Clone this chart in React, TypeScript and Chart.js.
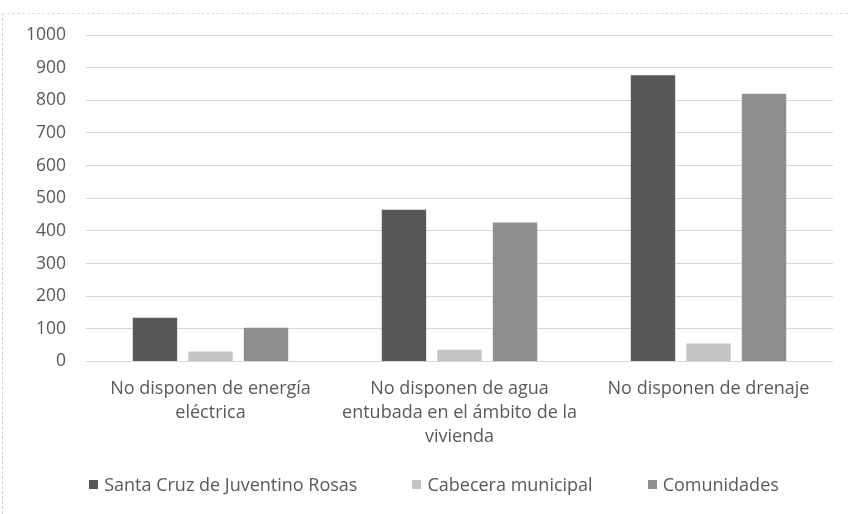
import React, { useEffect, useRef } from "react";
import { Chart, registerables } from "chart.js";

Chart.register(...registerables);

const categories: string[][] = [
  ["No disponen de energía", "eléctrica"],
  ["No disponen de agua", "entubada en el ámbito de la", "vivienda"],
  ["No disponen de drenaje"],
];
const santaCruz = [134, 465, 877];
const cabecera = [31, 36, 55];
const comunidades = [103, 426, 820];
const seriesNames = ["Santa Cruz de Juventino Rosas", "Cabecera municipal", "Comunidades"];
const seriesColors = ["#585858", "#c4c4c4", "#8e8e8e"];
const yTicks = [0, 100, 200, 300, 400, 500, 600, 700, 800, 900, 1000];

const FONT = "'Open Sans', 'DejaVu Sans', sans-serif";
const TXT = "#595959";

export default function App() {
  const ref = useRef<HTMLCanvasElement | null>(null);
  useEffect(() => {
    if (!ref.current) return;
    const series = [santaCruz, cabecera, comunidades];
    const chart = new Chart(ref.current, {
      type: "bar",
      data: {
        labels: categories,
        datasets: series.map((d, i) => ({
          label: seriesNames[i],
          data: d,
          backgroundColor: seriesColors[i],
        })),
      },
      options: {
        animation: false,
        responsive: false,
        maintainAspectRatio: false,
        layout: { padding: { top: 35, right: 15, bottom: 0, left: 0 } },
        datasets: {
          bar: { categoryPercentage: 0.669, barPercentage: 0.8 },
        },
        plugins: {
          tooltip: { enabled: false },
          legend: { display: false },
        },
        scales: {
          x: {
            grid: { display: false, drawTicks: false },
            border: { display: false },
            afterFit: (scale: any) => {
              scale.height = 152.5;
            },
            ticks: {
              color: TXT,
              font: { family: FONT, size: 18, lineHeight: 1.333 },
              padding: 15.5,
              maxRotation: 0,
              autoSkip: false,
            },
          },
          y: {
            min: 0,
            max: 1000,
            afterBuildTicks: (scale: any) => {
              scale.ticks = yTicks.map((v) => ({ value: v }));
            },
            afterFit: (scale: any) => {
              scale.width = 86;
            },
            grid: { color: "#d6d6d6", lineWidth: 1, drawTicks: false },
            border: { display: false },
            ticks: {
              color: TXT,
              font: { family: FONT, size: 17.5 },
              padding: 20,
              callback: (v: any) => String(v),
            },
          },
        },
      },
    });
    return () => chart.destroy();
  }, []);
  return (
    <div style={{ position: "fixed", left: 0, top: 0, width: 848, height: 514, background: "#fff" }}>
      <div style={{ position: "absolute", left: 2, top: 13, bottom: 0, borderLeft: "1px dashed #d0d0d0" }} />
      <div style={{ position: "absolute", left: 2, right: 0, top: 13, borderTop: "1px dashed #dedede" }} />
      <canvas ref={ref} width={848} height={514} style={{ display: "block", position: "absolute", left: 0, top: 0 }} />
      <div
        style={{
          position: "absolute",
          left: 0,
          width: 868,
          top: 472,
          height: 24,
          display: "flex",
          justifyContent: "center",
          alignItems: "center",
          gap: 55,
          fontFamily: FONT,
          fontSize: 18,
          color: TXT,
          whiteSpace: "nowrap",
        }}
      >
        {seriesNames.map((n, i) => (
          <div key={n} style={{ display: "flex", alignItems: "center" }}>
            <span style={{ display: "inline-block", width: 9, height: 9, background: seriesColors[i], marginRight: 6 }} />
            <span>{n}</span>
          </div>
        ))}
      </div>
    </div>
  );
}
